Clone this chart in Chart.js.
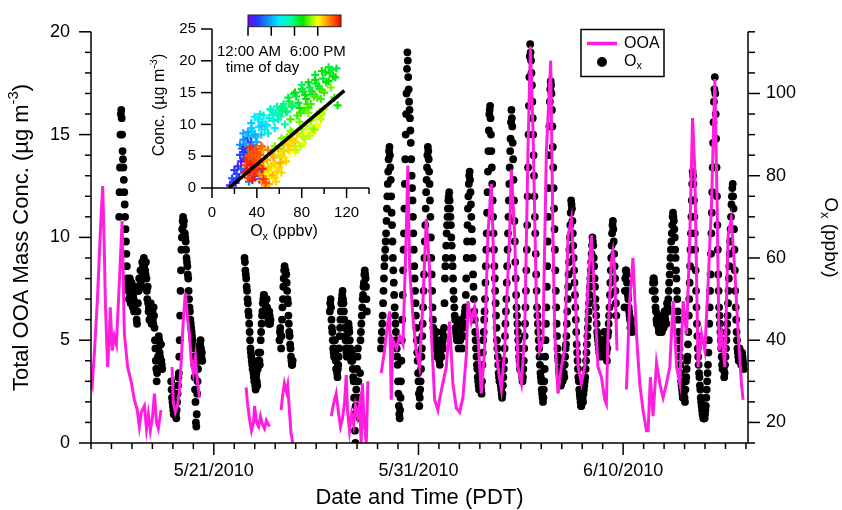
<!DOCTYPE html>
<html>
<head>
<meta charset="utf-8">
<title>OOA and Ox time series</title>
<script src="https://cdn.jsdelivr.net/npm/chart.js@4.4.1/dist/chart.umd.min.js"></script>
<style>
  body { margin: 0; background: #fff; }
  #wrap { position: relative; width: 842px; height: 510px; }
  #main { position: absolute; left: 0; top: 0; }
  #inset { position: absolute; left: 150px; top: 0; }
</style>
</head>
<body>
<div id="wrap">
  <canvas id="main" width="842" height="510"></canvas>
  <canvas id="inset" width="230" height="240"></canvas>
</div>
<script>
const FONT = "'Liberation Sans', Arial, Helvetica, sans-serif";
const MAGENTA = '#ff1ee0';
const _ = null;

// x is days after 5/15/2010 00:00 PDT
const xTickDays = [6, 16, 26];
const xTickLabels = ['5/21/2010', '5/31/2010', '6/10/2010'];
const ooaTicks = [0, 5, 10, 15, 20];
const oxTicks = [20, 40, 60, 80, 100];
const insetOxTicks = [0, 40, 80, 120];
const insetConcTicks = [0, 5, 10, 15, 20, 25];

// OOA mass conc (ug m-3), null = gap in the record
const ooaDay = [
  0.00,0.06,0.16,0.31,0.45,0.57,0.65,0.70,0.81,0.89,
  0.94,1.04,1.14,1.24,1.38,1.52,1.63,1.79,1.96,2.12,
  2.26,2.36,2.46,2.61,2.71,2.80,2.90,3.00,3.10,3.20,
  3.29,3.42,3.60,
  3.96,4.02,4.12,4.22,4.32,4.42,4.51,4.61,4.71,4.81,4.90,5.00,5.10,5.20,5.30,5.50,
  7.58,7.64,7.74,7.84,7.94,7.99,8.09,8.19,8.28,8.38,8.48,8.57,8.72,9.00,
  9.29,9.35,9.45,9.55,9.61,9.70,9.77,9.86,10.50,
  11.74,11.85,11.98,12.09,12.19,12.29,12.39,12.47,12.53,12.63,
  12.73,12.83,12.92,13.02,13.12,13.20,13.26,13.36,13.45,13.53,13.80,
  14.18,14.34,14.49,14.59,14.67,14.75,14.93,15.08,15.24,15.40,
  15.48,15.57,15.73,15.89,16.05,16.22,16.38,16.54,16.63,16.79,
  16.95,17.03,17.19,17.36,17.52,17.68,17.85,18.01,18.17,18.34,
  18.42,18.58,18.74,18.90,19.07,19.23,19.39,19.56,19.64,19.72,
  19.88,20.05,20.21,20.45,20.54,20.70,20.86,21.03,21.19,21.35,
  21.47,21.60,21.76,21.92,22.08,22.25,22.46,22.57,22.66,22.82,
  22.98,23.14,23.31,23.47,23.64,23.80,23.96,24.12,24.28,24.45,
  24.61,24.77,24.94,25.10,25.18,25.26,25.42,25.50,25.58,25.70,
  25.90,
  26.16,26.32,26.48,26.65,26.81,26.97,27.14,27.22,27.33,27.46,
  27.63,27.79,27.95,28.12,28.28,28.44,28.61,28.77,28.93,29.10,
  29.26,29.39,29.50,29.58,29.66,29.83,29.99,30.15,30.32,30.48,
  30.59,30.69,30.81,30.97,31.13,31.28,31.45,31.62,31.78,31.86
];
const ooaConc = [
  3.0,2.8,4.3,6.9,10.1,12.5,9.5,6.9,3.7,5.0,
  6.6,4.5,5.2,4.8,7.7,10.8,5.3,3.7,3.0,2.1,
  1.6,0.8,1.5,1.8,0.7,1.4,0.6,1.2,2.4,1.0,
  0.7,1.6,_,
  3.7,2.0,1.5,1.8,2.5,4.2,6.0,7.3,6.2,5.3,4.0,3.4,4.2,3.0,2.2,_,
  2.7,2.0,1.2,0.6,1.0,1.8,1.0,0.8,1.3,0.9,0.7,1.1,0.8,_,
  1.6,2.2,2.9,2.5,2.8,1.5,0.5,0.0,_,
  1.3,1.9,2.4,1.5,0.8,1.2,2.0,3.3,1.6,0.6,
  1.4,0.9,1.8,1.3,1.9,0.0,2.9,0.8,0.0,3.0,_,
  3.4,4.5,5.8,6.4,2.1,5.0,4.6,5.2,4.8,10.1,
  13.5,8.5,6.1,4.5,3.7,6.9,10.9,8.5,5.3,2.1,
  1.6,2.1,2.9,3.7,5.9,2.9,1.7,1.5,2.2,4.3,
  6.9,5.9,6.6,5.3,2.4,4.5,10.1,12.6,10.1,5.3,
  3.7,2.6,4.5,10.1,13.3,10.1,3.7,2.9,5.3,14.2,
  19.3,15.0,6.9,4.5,5.0,14.2,18.6,10.1,5.3,2.4,
  3.7,4.5,10.1,10.9,7.7,3.7,2.9,3.7,7.7,10.1,
  6.9,3.7,3.2,2.1,1.9,5.3,8.8,9.3,8.5,4.5,
  _,
  2.6,6.9,9.0,5.3,2.9,1.6,0.6,0.6,3.2,1.3,
  3.9,2.9,2.2,2.9,3.7,6.9,3.7,2.9,6.9,5.3,
  10.1,15.8,13.3,8.5,3.7,5.3,4.5,7.7,11.7,17.7,
  11.7,4.5,5.3,3.7,10.1,10.9,8.5,5.3,2.9,2.1
];

// Ox (ppbv), half-hourly from 5/16 00:00, one row per day
const oxStartDay = 1;
const oxStepHours = 0.5;
const oxValues = [
  /* 5/16 */ _,_,_,_,_,_,_,_,_,_,_,_,_,_,_,_,_,_,70,76,82,90,95,96,94,90,86,84,82,79,76,73,70,67,64,61,58,55,53,54,52,50,53,55,51,49,52,54,
  /* 5/17 */ 52,50,48,51,50,47,48,52,53,49,47,45,44,47,49,52,52,55,53,55,57,54,53,57,59,57,58,56,60,58,59,57,56,59,55,52,50,53,49,47,48,45,45,47,49,46,44,46,
  /* 5/18 */ 47,45,44,48,46,43,40,38,35,33,30,32,33,36,38,41,40,37,36,39,39,35,34,33,_,_,_,_,_,_,_,_,_,_,_,_,_,_,_,_,_,_,_,_,30,28,26,25,
  /* 5/19 */ 24,23,22,25,27,24,23,22,21,23,25,27,29,31,32,36,40,46,52,57,62,65,67,69,70,68,69,66,66,65,64,62,60,59,58,56,55,52,50,48,47,45,44,43,42,41,40,39,
  /* 5/20 */ 38,36,34,31,28,25,20,19,22,27,30,33,35,36,38,37,39,40,38,36,37,35,_,_,_,_,_,_,_,_,_,_,_,_,_,_,_,_,_,_,_,_,_,_,_,_,_,_,
  /* 5/21 */ _,_,_,_,_,_,_,_,_,_,_,_,_,_,_,_,_,_,_,_,_,_,_,_,_,_,_,_,_,_,_,_,_,_,_,_,_,_,_,_,_,_,_,_,_,_,_,_,
  /* 5/22 */ _,_,_,_,_,_,_,_,_,_,_,_,_,_,_,_,_,_,_,_,_,_,_,_,60,59,57,56,55,53,52,50,49,47,46,44,42,40,38,37,36,35,34,33,33,32,31,30,
  /* 5/23 */ 30,29,28,31,32,30,29,33,35,37,37,35,34,37,40,42,44,46,47,49,50,51,51,50,49,47,48,50,50,48,46,47,45,44,47,46,44,45,_,_,_,_,_,_,_,_,_,_,
  /* 5/24 */ _,_,_,_,_,_,_,_,_,_,40,42,43,41,38,41,45,48,50,53,55,57,58,57,57,56,56,54,52,50,49,46,44,42,41,39,38,36,35,34,34,35,_,_,_,_,_,_,
  /* 5/25 */ _,_,_,_,_,_,_,_,_,_,_,_,_,_,_,_,_,_,_,_,_,_,_,_,_,_,_,_,_,_,_,_,_,_,_,_,_,_,_,_,_,_,_,_,_,_,_,_,
  /* 5/26 */ _,_,_,_,_,_,_,_,_,_,_,_,_,_,_,_,_,_,_,_,_,_,_,_,_,_,_,_,_,_,_,_,47,49,50,48,45,43,42,40,38,37,36,38,40,37,35,33,
  /* 5/27 */ 33,32,31,33,34,36,38,41,43,45,47,49,50,51,52,50,49,47,45,43,41,40,38,37,36,38,40,42,44,43,42,40,38,36,35,36,37,35,33,31,30,26,22,18,15,24,28,30,
  /* 5/28 */ 33,36,38,30,26,23,21,32,40,42,44,46,48,50,51,53,54,56,57,56,55,53,50,47,_,_,_,_,_,_,_,_,_,_,_,_,_,_,_,_,_,_,_,_,_,_,_,_,
  /* 5/29 */ _,_,_,_,_,_,_,_,38,40,42,44,46,49,52,55,58,60,62,64,66,69,72,75,78,81,84,86,87,85,82,79,75,71,68,64,60,57,54,51,48,46,44,42,40,38,36,34,
  /* 5/30 */ 30,27,24,22,21,23,26,30,35,40,45,51,57,62,66,72,78,84,90,95,100,106,110,108,104,101,98,96,94,91,88,84,80,77,74,70,66,62,58,55,52,49,46,43,40,37,35,32,
  /* 5/31 */ 30,27,24,26,28,30,33,36,38,41,44,48,52,56,60,64,68,72,76,79,82,85,87,86,84,81,78,74,70,65,60,56,52,48,45,43,42,41,40,39,38,40,42,39,36,37,39,38,
  /* 6/1 */  37,35,34,37,40,38,36,39,42,40,38,41,43,49,55,58,60,63,66,68,70,72,74,75,76,74,72,70,68,65,63,60,58,55,52,50,48,46,45,43,42,41,40,42,44,41,38,40,
  /* 6/2 */  42,41,40,43,45,41,38,41,44,43,41,44,46,47,48,51,55,60,64,68,72,75,78,80,81,79,76,73,70,67,64,60,56,53,50,47,45,42,40,38,36,34,33,31,30,29,28,30,
  /* 6/3 */  32,30,29,28,27,30,34,37,40,42,45,47,50,54,58,62,66,71,76,81,86,91,95,96,97,94,90,86,82,78,74,70,66,62,58,55,52,49,46,43,40,38,36,34,32,31,30,31,
  /* 6/4 */  30,29,28,27,26,27,29,31,33,35,38,41,44,47,50,54,58,62,66,70,74,78,82,86,89,93,96,94,92,88,84,79,74,69,64,59,55,51,48,46,44,42,40,38,36,35,33,34,
  /* 6/5 */  35,33,32,31,30,31,33,35,38,41,44,48,52,57,62,68,75,82,90,97,104,109,112,110,108,105,102,98,94,90,85,80,75,70,66,61,56,52,48,46,44,42,40,38,36,34,32,31,
  /* 6/6 */  30,28,27,26,25,26,28,30,33,36,40,44,48,53,58,64,70,77,85,92,98,101,103,102,100,96,92,87,82,77,72,67,62,57,52,48,44,41,38,36,35,33,32,31,30,29,29,31,
  /* 6/7 */  33,31,30,32,34,32,31,34,36,38,39,41,44,47,50,53,56,59,62,65,68,71,74,73,72,69,66,63,60,57,54,51,48,45,42,39,37,35,33,31,30,28,27,26,25,24,24,25,
  /* 6/8 */  27,26,25,27,28,29,30,31,33,35,37,39,41,43,45,47,49,51,53,55,57,59,61,63,65,64,63,60,58,55,53,50,48,46,44,42,41,40,39,38,37,39,40,38,36,37,38,39,
  /* 6/9 */  40,38,37,40,42,39,36,37,39,37,35,38,41,42,44,46,48,51,54,57,60,63,66,68,69,67,64,61,58,55,52,49,46,_,_,_,_,_,_,_,_,_,_,_,_,_,_,
  /* 6/10 */ _,_,_,_,48,52,55,57,57,56,54,52,51,50,48,47,46,45,43,44,45,43,42,_,_,_,_,_,_,_,_,_,_,_,_,_,_,_,_,_,_,_,_,_,_,_,_,_,
  /* 6/11 */ _,_,_,_,_,_,_,_,_,_,_,_,_,_,_,_,_,_,_,_,_,_,52,54,55,55,54,52,50,48,47,45,44,45,46,44,43,42,42,44,45,44,44,43,42,44,46,45,
  /* 6/12 */ 43,45,47,46,45,44,44,47,49,48,47,50,52,54,56,58,60,62,64,66,68,70,71,70,69,67,65,62,60,57,55,52,50,47,45,42,40,38,36,34,32,30,29,28,27,26,26,27,
  /* 6/13 */ 28,26,25,28,30,31,33,35,36,39,42,46,50,54,58,62,66,70,74,78,81,80,78,74,70,66,62,57,52,48,44,41,38,36,34,32,31,29,28,26,25,24,23,22,22,21,21,21,
  /* 6/14 */ 21,22,23,24,26,28,30,32,34,37,40,44,48,52,56,61,66,71,76,82,88,93,98,101,104,100,95,89,82,75,68,62,56,52,48,46,44,42,40,38,36,34,33,34,35,33,31,32,
  /* 6/15 */ 34,36,38,40,42,44,46,49,52,55,58,61,64,67,70,73,75,77,78,75,72,67,62,57,52,48,45,42,40,38,37,36,35,37,38,37,36,35,34,36,37,36,35,34,33,_,_,_
];

// inset: OOA conc vs Ox, coloured by hour of day (one line per part of the day)
const insetOx = [
  16,19,22,24,26,28,30,31,33,35,27,29,32,34,36,38,40,42,45,47,25,37,43,21,18,23,26,29,31,34,37,39,41,44,20,33,
  30,33,36,39,42,45,48,51,54,57,40,44,47,50,35,38,53,59,62,28,43,56,25,28,32,35,38,41,46,49,52,55,58,61,64,67,34,44,
  60,63,66,69,72,75,78,81,84,87,90,93,96,99,102,105,108,111,70,76,82,88,94,100,106,112,65,73,80,86,92,98,104,109,
  62,68,71,74,77,80,83,86,89,92,95,98,101,104,107,110,85,91,97,79,
  50,55,60,64,68,72,76,80,84,88,92,96,58,66,74,82,90,98,62,70,78,86,94,54,47,100,
  52,57,61,65,69,73,77,81,85,89,93,97,63,67,71,75,79,83,87,91,56,49,
  38,41,44,47,50,53,56,59,62,65,68,72,76,42,48,54,60,66,45,51,57,39,
  36,40,43,46,49,52,55,58,61,64,67,70,74,44,50,56,62,47,
  30,32,34,36,38,40,33,35,37,42,44,31,39,46,48,36,29,31,33,35,37,39,41,43,34,38,45,32
];
const insetConc = [
  0.4,1.0,2.2,1.6,3.0,4.6,6.5,3.6,4.2,7.2,6.2,2.6,7.8,2.9,6.8,1.9,3.3,1.4,0.9,2.0,5.2,6.0,4.0,0.8,1.5,3.4,4.2,5.6,6.0,5.0,4.4,5.6,2.6,1.8,2.8,1.0,
  7.0,8.2,9.0,8.0,9.6,10.4,10.0,11.0,11.5,11.8,7.2,8.4,9.2,8.6,10.2,11.2,12.2,10.8,12.5,8.6,11.6,9.4,6.8,7.6,8.8,9.4,8.4,10.8,11.4,9.8,12.4,10.6,12.8,11.2,13.2,12.0,6.0,9.8,
  11.5,12.8,12.0,13.6,13.0,14.4,12.6,15.2,14.0,15.8,14.8,16.4,15.6,17.2,16.6,18.0,17.6,18.8,10.8,11.4,12.2,13.2,14.2,15.0,15.8,13.0,10.0,14.8,16.2,12.6,17.8,18.4,19.0,14.2,
  12.2,14.2,12.8,15.0,13.4,15.6,14.6,16.6,15.2,17.0,16.0,15.4,18.2,16.8,18.6,17.4,13.2,14.4,14.0,11.8,
  3.2,4.0,5.2,6.0,6.8,7.6,8.4,9.2,9.8,10.6,11.2,12.0,2.4,4.2,5.6,7.0,8.6,11.6,7.8,9.0,10.4,11.8,9.6,5.8,1.8,12.4,
  2.0,3.0,3.8,4.8,5.8,6.6,7.0,8.0,8.8,9.4,10.0,10.8,6.8,8.0,8.8,6.0,6.6,7.8,8.2,9.2,6.6,2.6,
  4.0,5.2,3.6,4.6,2.8,5.4,3.8,6.2,5.0,7.0,6.0,7.8,8.6,2.2,1.4,2.0,3.2,4.2,6.4,0.6,1.0,2.8,
  3.0,4.6,5.6,3.2,4.4,3.4,4.8,2.6,4.0,5.8,7.4,6.6,7.2,1.2,6.0,1.6,2.4,0.4,
  3.6,4.4,3.0,4.8,3.8,5.4,2.4,5.8,2.0,4.2,6.6,2.8,6.2,1.4,0.8,1.2,2.4,4.8,5.0,3.6,4.4,2.8,3.6,5.2,6.4,5.8,3.0,1.6
];
const insetHour = [
  1,2,3,2,4,3,2,1,4,3,2,4,1,0,5,2,3,4,1,2,3,0,5,1,3,2,1,2,3,2,4,1,3,4,2,5,
  6,7,8,7,8,9,8,9,10,10,6,7,8,9,7,8,10,9,10,6,9,8,5,5,6,7,6,8,9,8,10,9,10,10,11,11,5,7,
  11,12,12,13,12,13,14,13,14,13,14,13,14,13,14,13,14,13,15,15,15,15,15,15,16,14,11,12,12,15,13,14,13,15,
  12,13,12,14,13,13,14,14,13,14,13,15,14,14,13,14,15,15,15,15,
  17,18,17,16,17,16,17,16,17,16,17,16,18,18,18,18,18,17,16,16,16,16,18,17,18,17,
  18,18,18,18,18,17,18,17,18,17,18,17,16,16,16,17,17,17,17,16,16,18,
  20,21,19,20,19,20,19,20,19,19,19,19,19,21,20,20,19,19,21,20,19,21,
  21,21,20,20,20,19,20,19,20,19,19,19,19,20,21,19,19,20,
  22.5,23,23.5,22,23,22.5,23.5,22,23,22,21.5,23.5,22.5,23,22,23.5,23.5,23,22,23.5,22.5,23,22.5,22,23,22,23.5,22.5
];
const fitOx = [15, 118];
const fitConc = [0, 15.3];

// colour scale for time of day
const cmapStops = [
  [0, [122, 0, 255]], [2.5, [30, 60, 255]], [5, [20, 140, 255]], [8, [0, 235, 255]],
  [11, [0, 255, 160]], [14, [0, 230, 0]], [16.5, [150, 255, 0]], [18, [255, 255, 0]],
  [20.5, [255, 150, 0]], [24, [255, 0, 0]]
];
function hourColor(h) {
  for (let i = 1; i < cmapStops.length; i++) {
    const [h0, c0] = cmapStops[i - 1], [h1, c1] = cmapStops[i];
    if (h <= h1) {
      const t = (h - h0) / (h1 - h0);
      const c = c0.map((v, k) => Math.round(v + (c1[k] - v) * t));
      return `rgb(${c[0]},${c[1]},${c[2]})`;
    }
  }
  return 'rgb(255,0,0)';
}

function seg(ctx, x1, y1, x2, y2) {
  ctx.beginPath(); ctx.moveTo(x1, y1); ctx.lineTo(x2, y2); ctx.stroke();
}

// text with sub/superscript parts
function richText(ctx, parts, x, y, size, rot, align) {
  ctx.save();
  ctx.translate(x, y);
  ctx.rotate(rot);
  ctx.textBaseline = 'middle';
  ctx.textAlign = 'left';
  let w = 0;
  parts.forEach(p => {
    p.size = (p.sub || p.sup) ? size * 0.68 : size;
    ctx.font = p.size + 'px ' + FONT;
    p.w = ctx.measureText(p.text).width;
    w += p.w;
  });
  let cx = align === 'left' ? 0 : -w / 2;
  parts.forEach(p => {
    ctx.font = p.size + 'px ' + FONT;
    const dy = p.sub ? size * 0.3 : (p.sup ? -size * 0.38 : 0);
    ctx.fillText(p.text, cx, dy);
    cx += p.w;
  });
  ctx.restore();
}

Chart.defaults.font.family = FONT;
Chart.defaults.color = '#000';

const mainDeco = {
  id: 'mainDeco',
  afterDraw(chart) {
    const { ctx, chartArea: a, scales: { x, y, y2 } } = chart;
    ctx.save();
    ctx.strokeStyle = '#000';
    ctx.lineWidth = 1.5;
    seg(ctx, a.left, a.top, a.left, a.bottom);
    seg(ctx, a.right, a.top, a.right, a.bottom);
    seg(ctx, a.left, a.bottom, a.right, a.bottom);
    for (let d = 0; d <= 32; d++) {
      const px = x.getPixelForValue(d);
      seg(ctx, px, a.bottom, px, a.bottom + (xTickDays.includes(d) ? 12 : 6));
    }
    for (let v = 0; v <= 20; v++) {
      const py = y.getPixelForValue(v);
      seg(ctx, a.left - (v % 5 === 0 ? 12 : 6), py, a.left, py);
    }
    for (let v = 15; v <= 115; v += 5) {
      const py = y2.getPixelForValue(v);
      seg(ctx, a.right, py, a.right + (v % 20 === 0 ? 12 : 7), py);
    }
    ctx.fillStyle = '#000';
    const midY = (a.top + a.bottom) / 2;
    richText(ctx, [{ text: 'Total OOA Mass Conc. (µg m' }, { text: '-3', sup: true }, { text: ')' }], 22, midY, 22, -Math.PI / 2);
    richText(ctx, [{ text: 'O' }, { text: 'x', sub: true }, { text: ' (ppbv)' }], 830, midY, 19, Math.PI / 2);
    richText(ctx, [{ text: 'Date and Time (PDT)' }], (a.left + a.right) / 2, 498, 22, 0);

    // legend box
    ctx.lineWidth = 1.5;
    ctx.strokeRect(581, 29.5, 83, 47);
    ctx.strokeStyle = MAGENTA;
    ctx.lineWidth = 3.5;
    seg(ctx, 587, 43.5, 617, 43.5);
    ctx.beginPath();
    ctx.arc(602, 62, 5, 0, Math.PI * 2);
    ctx.fill();
    richText(ctx, [{ text: 'OOA' }], 624, 43.5, 16, 0, 'left');
    richText(ctx, [{ text: 'O' }, { text: 'x', sub: true }], 624, 61.5, 16, 0, 'left');
    ctx.restore();
  }
};

const ooaPoints = ooaDay.map((d, i) => ({ x: d, y: ooaConc[i] }));
const oxPoints = oxValues
  .map((v, i) => ({ x: oxStartDay + i * oxStepHours / 24, y: v }))
  .filter(p => p.y !== null);

new Chart(document.getElementById('main'), {
  type: 'scatter',
  data: {
    datasets: [
      {
        type: 'line', label: 'OOA', data: ooaPoints, yAxisID: 'y',
        borderColor: MAGENTA, borderWidth: 3, pointRadius: 0, tension: 0,
        spanGaps: false, order: 0
      },
      {
        type: 'scatter', label: 'Ox', data: oxPoints, yAxisID: 'y2',
        pointRadius: 3.9, backgroundColor: '#000', borderWidth: 0, order: 1
      }
    ]
  },
  options: {
    responsive: false,
    animation: false,
    devicePixelRatio: 1,
    layout: { padding: { top: 29, left: 0, right: 0, bottom: 0 } },
    plugins: { legend: { display: false }, tooltip: { enabled: false } },
    scales: {
      x: {
        type: 'linear', min: 0, max: 32.1,
        grid: { display: false, drawTicks: false }, border: { display: false },
        afterBuildTicks: s => { s.ticks = xTickDays.map(v => ({ value: v })); },
        ticks: {
          autoSkip: false, maxRotation: 0, padding: 17, font: { size: 18 },
          callback: v => xTickLabels[xTickDays.indexOf(v)]
        },
        afterFit: s => { s.height = 67; }
      },
      y: {
        type: 'linear', position: 'left', min: 0, max: 20,
        grid: { display: false, drawTicks: false }, border: { display: false },
        afterBuildTicks: s => { s.ticks = ooaTicks.map(v => ({ value: v })); },
        ticks: { padding: 21, font: { size: 18 } },
        afterFit: s => { s.width = 91; }
      },
      y2: {
        type: 'linear', position: 'right', min: 15, max: 115,
        grid: { display: false, drawTicks: false }, border: { display: false },
        afterBuildTicks: s => { s.ticks = oxTicks.map(v => ({ value: v })); },
        ticks: { padding: 18, font: { size: 18 } },
        afterFit: s => { s.width = 94; }
      }
    }
  },
  plugins: [mainDeco]
});

const insetDeco = {
  id: 'insetDeco',
  afterDraw(chart) {
    const { ctx, chartArea: a, scales: { x, y } } = chart;
    ctx.save();
    ctx.strokeStyle = '#000';
    ctx.lineWidth = 1.5;
    seg(ctx, a.left, a.top, a.left, a.bottom);
    seg(ctx, a.left, a.bottom, a.right, a.bottom);
    for (let v = 0; v <= 140; v += 20) {
      const px = x.getPixelForValue(v);
      seg(ctx, px, a.bottom, px, a.bottom + (insetOxTicks.includes(v) ? 10 : 6));
    }
    insetConcTicks.forEach(v => {
      const py = y.getPixelForValue(v);
      seg(ctx, a.left - 11, py, a.left, py);
    });
    ctx.fillStyle = '#000';
    richText(ctx, [{ text: 'Conc. (µg m' }, { text: '-3', sup: true }, { text: ')' }], 10, 105, 16, -Math.PI / 2);
    richText(ctx, [{ text: 'O' }, { text: 'x', sub: true }, { text: ' (ppbv)' }], 134, 232, 16, 0);

    // time-of-day colour bar
    const bx0 = 98, bx1 = 191, by0 = 15, by1 = 26.7;
    const g = ctx.createLinearGradient(bx0, 0, bx1, 0);
    cmapStops.forEach(([h]) => g.addColorStop(h / 24, hourColor(h)));
    ctx.fillStyle = g;
    ctx.fillRect(bx0, by0, bx1 - bx0, by1 - by0);
    ctx.lineWidth = 1;
    ctx.strokeStyle = '#222';
    ctx.strokeRect(bx0, by0, bx1 - bx0, by1 - by0);
    ctx.lineWidth = 1.5;
    ctx.strokeStyle = '#000';
    [0, 6, 12, 18].forEach(h => {
      const px = bx0 + (bx1 - bx0) * h / 24;
      seg(ctx, px, by1, px, by1 + 9);
    });
    ctx.fillStyle = '#000';
    richText(ctx, [{ text: '12:00 AM' }], bx0 + 1, 51.7, 15, 0);
    richText(ctx, [{ text: '6:00 PM' }], bx0 + (bx1 - bx0) * 18 / 24, 51.7, 15, 0);
    richText(ctx, [{ text: 'time of day' }], 112.5, 68, 15, 0);
    ctx.restore();
  }
};

const insetColors = insetHour.map(hourColor);

new Chart(document.getElementById('inset'), {
  type: 'scatter',
  data: {
    datasets: [
      {
        type: 'line', data: fitOx.map((v, i) => ({ x: v, y: fitConc[i] })),
        borderColor: '#000', borderWidth: 3.5, pointRadius: 0, order: 0
      },
      {
        type: 'scatter', data: insetOx.map((v, i) => ({ x: v, y: insetConc[i] })),
        pointStyle: 'cross', pointRadius: 4, borderWidth: 2.2,
        borderColor: insetColors, backgroundColor: insetColors, order: 1
      }
    ]
  },
  options: {
    responsive: false,
    animation: false,
    devicePixelRatio: 1,
    layout: { padding: { top: 29, left: 0, right: 11, bottom: 0 } },
    plugins: { legend: { display: false }, tooltip: { enabled: false } },
    scales: {
      x: {
        type: 'linear', min: 0, max: 140,
        grid: { display: false, drawTicks: false }, border: { display: false },
        afterBuildTicks: s => { s.ticks = insetOxTicks.map(v => ({ value: v })); },
        ticks: { autoSkip: false, maxRotation: 0, padding: 16, font: { size: 15 } },
        afterFit: s => { s.height = 52; }
      },
      y: {
        type: 'linear', min: 0, max: 25,
        grid: { display: false, drawTicks: false }, border: { display: false },
        afterBuildTicks: s => { s.ticks = insetConcTicks.map(v => ({ value: v })); },
        ticks: { padding: 16, font: { size: 15 } },
        afterFit: s => { s.width = 62; }
      }
    }
  },
  plugins: [insetDeco]
});
</script>
</body>
</html>
